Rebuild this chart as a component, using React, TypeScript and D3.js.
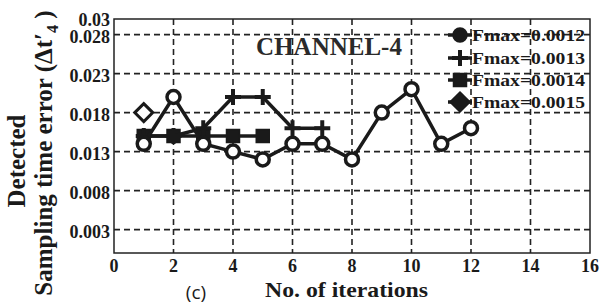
import React, { useEffect, useRef } from 'react';
import * as d3 from 'd3';

// Values
const iterations1 = [1, 2, 3, 4, 5, 6, 7, 8, 9, 10, 11, 12];
const fmax0012 = [0.014, 0.02, 0.014, 0.013, 0.012, 0.014, 0.014, 0.012, 0.018, 0.021, 0.014, 0.016];
const iterations2 = [1, 2, 3, 4, 5, 6, 7];
const fmax0013 = [0.015, 0.015, 0.016, 0.02, 0.02, 0.016, 0.016];
const iterations3 = [1, 2, 3, 4, 5];
const fmax0014 = [0.015, 0.015, 0.015, 0.015, 0.015];
const iterations4 = [1];
const fmax0015 = [0.018];

const seriesNames = ['Fmax=0.0012', 'Fmax=0.0013', 'Fmax=0.0014', 'Fmax=0.0015'];
const markerTypes = ['circle', 'plus', 'square', 'diamond'];
const xTicks = [0, 2, 4, 6, 8, 10, 12, 14, 16];
const yTicks = [0.003, 0.008, 0.013, 0.018, 0.023, 0.028, 0.03];
const yGrid = [0.003, 0.008, 0.013, 0.018, 0.023, 0.028];
const xGrid = [2, 4, 6, 8, 10, 12, 14];

const W = 601;
const H = 302;
const M = { left: 114, right: 11, top: 19, bottom: 49 };
const SERIF = '"Liberation Serif", "Times New Roman", serif';
const INK = '#1a1a1a';

function drawMarker(g: d3.Selection<SVGGElement, unknown, null, undefined>, type: string, x: number, y: number, legend = false) {
  if (type === 'circle') {
    g.append('circle').attr('cx', x).attr('cy', y).attr('r', legend ? 6 : 6.5)
      .attr('fill', legend ? INK : '#fff').attr('stroke', INK).attr('stroke-width', 3.5);
  } else if (type === 'plus') {
    g.append('path').attr('d', `M${x - 8},${y}H${x + 8}M${x},${y - 8}V${y + 8}`)
      .attr('stroke', INK).attr('stroke-width', 4).attr('fill', 'none');
  } else if (type === 'square') {
    g.append('rect').attr('x', x - 6.5).attr('y', y - 6.5).attr('width', 13).attr('height', 13)
      .attr('fill', INK).attr('stroke', INK).attr('stroke-width', 1.5);
  } else {
    g.append('path').attr('d', `M${x},${y - 9}L${x + 9},${y}L${x},${y + 9}L${x - 9},${y}Z`)
      .attr('fill', legend ? INK : '#fff').attr('stroke', INK).attr('stroke-width', 3);
  }
}

export default function App() {
  const svgRef = useRef<SVGSVGElement>(null);

  useEffect(() => {
    const svg = d3.select(svgRef.current);
    svg.selectAll('*').remove();

    const x = d3.scaleLinear().domain([0, 16]).range([M.left, W - M.right]);
    const y = d3.scaleLinear().domain([0, 0.03]).range([H - M.bottom, M.top]);

    const g = svg.append('g');

    // grid
    g.selectAll('.hg').data(yGrid).enter().append('line')
      .attr('x1', M.left).attr('x2', W - M.right)
      .attr('y1', d => y(d)).attr('y2', d => y(d))
      .attr('stroke', '#222').attr('stroke-width', 1.6).attr('stroke-dasharray', '6,4');
    g.selectAll('.vg').data(xGrid).enter().append('line')
      .attr('y1', M.top).attr('y2', H - M.bottom)
      .attr('x1', d => x(d)).attr('x2', d => x(d))
      .attr('stroke', '#222').attr('stroke-width', 1.6).attr('stroke-dasharray', '6,4');

    // axes frame
    g.append('rect').attr('x', M.left).attr('y', M.top)
      .attr('width', W - M.right - M.left).attr('height', H - M.bottom - M.top)
      .attr('fill', 'none').attr('stroke', '#222').attr('stroke-width', 1.5);

    // tick labels
    g.selectAll('.xt').data(xTicks).enter().append('text')
      .attr('x', d => x(d)).attr('y', 272)
      .attr('text-anchor', 'middle').attr('font-family', SERIF)
      .attr('font-weight', 'bold').attr('font-size', 18).attr('fill', INK)
      .text(d => d);
    g.selectAll('.yt').data(yTicks).enter().append('text')
      .attr('x', M.left - 4).attr('y', d => y(d) + (d === 0.03 ? 6.5 : 8))
      .attr('text-anchor', 'end').attr('font-family', SERIF)
      .attr('font-weight', 'bold').attr('font-size', 18).attr('fill', INK)
      .text(d => d);

    // lines and markers
    const series = [
      { xs: iterations1, ys: fmax0012 },
      { xs: iterations2, ys: fmax0013 },
      { xs: iterations3, ys: fmax0014 },
      { xs: iterations4, ys: fmax0015 },
    ];
    const line = d3.line<[number, number]>().x(d => x(d[0])).y(d => y(d[1]));
    const drawOrder = [3, 2, 1, 0];
    drawOrder.forEach(i => {
      const s = series[i];
      const pts = s.xs.map((v, j) => [v, s.ys[j]] as [number, number]);
      if (pts.length > 1) {
        g.append('path').attr('d', line(pts) || '')
          .attr('fill', 'none').attr('stroke', INK).attr('stroke-width', 3.5);
      }
      pts.forEach(p => drawMarker(g, markerTypes[i], x(p[0]), y(p[1])));
    });

    // title
    g.append('text').attr('x', 329).attr('y', 55).attr('text-anchor', 'middle')
      .attr('font-family', SERIF).attr('font-weight', 'bold').attr('font-size', 25)
      .attr('fill', '#2a2a2a').text('CHANNEL-4');

    // legend
    const legY = [35, 58, 80, 102];
    seriesNames.forEach((name, i) => {
      const ly = legY[i];
      g.append('line').attr('x1', 448).attr('x2', 472).attr('y1', ly).attr('y2', ly)
        .attr('stroke', INK).attr('stroke-width', 3.5);
      drawMarker(g, markerTypes[i], 460, ly, true);
      g.append('text').attr('x', 472).attr('y', ly + 6)
        .attr('font-family', SERIF).attr('font-weight', 'bold').attr('font-size', 17)
        .attr('textLength', 113).attr('lengthAdjust', 'spacingAndGlyphs')
        .attr('fill', INK).text(name);
    });

    // x label
    g.append('text').attr('x', 265).attr('y', 297)
      .attr('font-family', SERIF).attr('font-weight', 'bold').attr('font-size', 22)
      .attr('textLength', 163).attr('lengthAdjust', 'spacingAndGlyphs')
      .attr('fill', INK).text('No. of iterations');
    g.append('text').attr('x', 196).attr('y', 299).attr('text-anchor', 'middle')
      .attr('font-family', '"Open Sans", sans-serif').attr('font-size', 19)
      .attr('fill', INK).text('(c)');

    // y label
    g.append('text').attr('transform', 'translate(25,161) rotate(-90)')
      .attr('text-anchor', 'middle').attr('font-family', SERIF)
      .attr('font-weight', 'bold').attr('font-size', 25).attr('fill', INK)
      .text('Detected');
    const yl = g.append('text').attr('transform', 'translate(52,153) rotate(-90)')
      .attr('text-anchor', 'middle').attr('font-family', SERIF)
      .attr('font-weight', 'bold').attr('font-size', 25).attr('fill', INK);
    yl.append('tspan').text('Sampling time error (\u0394t\u2032');
    yl.append('tspan').attr('font-size', 16).attr('dy', 6).text('4');
    yl.append('tspan').attr('dy', -6).text(' )');
  }, []);

  return (
    <div style={{ position: 'absolute', left: 0, top: 0 }}>
      <svg ref={svgRef} width={W} height={H} style={{ display: 'block', background: '#fff' }}></svg>
    </div>
  );
}
